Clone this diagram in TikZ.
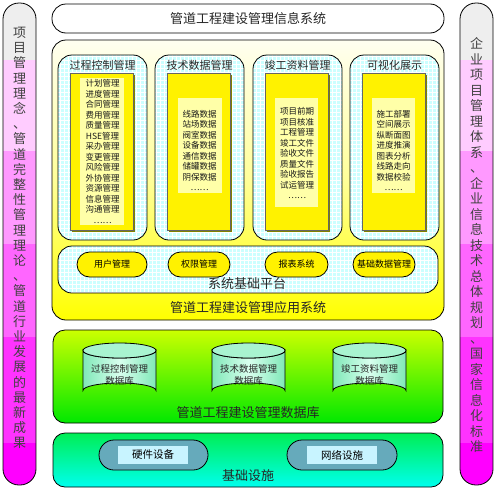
\documentclass[tikz,border=0pt]{standalone}
\usepackage{fontspec}
\setmainfont{Noto Sans CJK SC}
\definecolor{bandA}{HTML}{EEEEEE}
\definecolor{bandB}{HTML}{FFCCFF}
\definecolor{bandC}{HTML}{FF99FF}
\definecolor{bandD}{HTML}{FF66FF}
\definecolor{bandE}{HTML}{FF33FF}
\definecolor{bandF}{HTML}{FF00FF}
\definecolor{gridcyan}{HTML}{CCFFFF}
\definecolor{appTop}{HTML}{FFFFF0}
\definecolor{appMid}{HTML}{FFFF99}
\definecolor{appBot}{HTML}{FFFF00}
\definecolor{paleY}{HTML}{FFFFA8}
\definecolor{olive}{HTML}{808000}
\definecolor{dbTop}{HTML}{CCFF00}
\definecolor{dbBot}{HTML}{00E800}
\definecolor{infTop}{HTML}{00EE55}
\definecolor{infBot}{HTML}{00FFEE}
\definecolor{cylSide}{HTML}{80E8B8}
\definecolor{cylLight}{HTML}{D8FFEE}
\definecolor{cylTop}{HTML}{A8F4D0}
\definecolor{pillBlue}{HTML}{66AABB}
\definecolor{pillIn}{HTML}{C8F4FF}
\begin{document}
\begin{tikzpicture}[x=1pt,y=-1pt,
  outline/.style={draw=black,line width=0.8pt},
  bigtitle/.style={font=\fontsize{13}{15}\selectfont,text=black!85},
  modtitle/.style={font=\fontsize{11}{13}\selectfont,text=black!85},
  listtext/.style={font=\fontsize{8.5}{10.5}\selectfont,align=center,text=black!90},
  sidetext/.style={align=center,text=black!75},
  pillY/.style={outline,fill=yellow,rounded corners=12.5pt,minimum height=25pt,inner sep=0pt,font=\fontsize{9}{11}\selectfont},
  pillB/.style={outline,fill=pillBlue,rounded corners=15pt,minimum height=30pt,inner sep=0pt},
  pillInner/.style={fill=pillIn,minimum width=70pt,minimum height=18pt,inner sep=0pt,font=\fontsize{10.5}{12}\selectfont}
]
\useasboundingbox (0,0) rectangle (497,490);

% ---- side bars ----
\foreach \xa/\xb in {3/36,460/493}{
  \begin{scope}
    \clip[rounded corners=16pt] (\xa,3) rectangle (\xb,485);
    \fill[bandA] (\xa,3) rectangle (\xb,60);
    \fill[bandB] (\xa,60) rectangle (\xb,151);
    \fill[bandC] (\xa,151) rectangle (\xb,244);
    \fill[bandD] (\xa,244) rectangle (\xb,337);
    \fill[bandE] (\xa,337) rectangle (\xb,443);
    \fill[bandF] (\xa,443) rectangle (\xb,485);
  \end{scope}
  \draw[outline,rounded corners=16pt] (\xa,3) rectangle (\xb,485);
}
\node[sidetext,font=\fontsize{13}{15.2}\selectfont] (lefttxt) at (19.5,238)
 {项\\目\\管\\理\\理\\念\\、\\管\\道\\完\\整\\性\\管\\理\\理\\论\\、\\管\\道\\行\\业\\发\\展\\的\\最\\新\\成\\果};
\node[sidetext,font=\fontsize{13}{15.5}\selectfont] (righttxt) at (476.5,245)
 {企\\业\\项\\目\\管\\理\\体\\系\\、\\企\\业\\信\\息\\技\\术\\总\\体\\规\\划\\、\\国\\家\\信\\息\\化\\标\\准};

% ---- top title ----
\draw[outline,fill=white,rounded corners=14pt] (52,4) rectangle (444,33);
\node[bigtitle] (toptitle) at (248,18.5) {管道工程建设管理信息系统};

% ---- application system ----
\shade[outline,rounded corners=14pt,top color=appTop,bottom color=appBot,middle color=appMid] (52,40) rectangle (444,320);
\node[bigtitle] (apptitle) at (248,308) {管道工程建设管理应用系统};

% module boxes
\foreach \x/\n/\t in {58/m1/过程控制管理,155/m2/技术数据管理,253/m3/竣工资料管理,350/m4/可视化展示}{
  \begin{scope}
    \clip[rounded corners=14pt] (\x,55) rectangle ({\x+89},240);
    \fill[gridcyan] (\x,55) rectangle ({\x+89},240);
    \draw[white,line width=0.6pt,step=4pt] (\x,55) grid ({\x+89},240);
  \end{scope}
  \draw[outline,rounded corners=14pt] (\x,55) rectangle ({\x+89},240);
  \node[modtitle] (\n t) at ({\x+44.5},65.5) {\t};
  \fill[olive] ({\x+14},75) rectangle ({\x+77},232);
  \fill[yellow,draw=black!60,line width=0.4pt] ({\x+12.5},73) rectangle ({\x+75.5},230);
}
\fill[paleY] (80,78) rectangle (124,225);
\fill[paleY] (178,98) rectangle (222,193);
\fill[paleY] (275,98) rectangle (318,207);
\fill[paleY] (372,98) rectangle (415,193);
\node[listtext] (l1) at (102.5,151.5) {计划管理\\进度管理\\合同管理\\费用管理\\质量管理\\HSE管理\\采办管理\\变更管理\\风险管理\\外协管理\\资源管理\\信息管理\\沟通管理\\……};
\node[listtext] (l2) at (199.5,150.5) {线路数据\\站场数据\\阀室数据\\设备数据\\通信数据\\储罐数据\\阴保数据\\……};
\node[listtext] (l3) at (297,153) {项目前期\\项目核准\\工程管理\\竣工文件\\验收文件\\质量文件\\验收报告\\试运管理\\……};
\node[listtext] (l4) at (393.5,150.5) {施工部署\\空间展示\\纵断面图\\进度推演\\图表分析\\线路走向\\数据校验\\……};

% platform
\begin{scope}
  \clip[rounded corners=14pt] (58,246) rectangle (438,293);
  \fill[gridcyan] (58,246) rectangle (438,293);
  \draw[white,line width=0.6pt,step=4pt] (58,246) grid (438,293);
\end{scope}
\draw[outline,rounded corners=14pt] (58,246) rectangle (438,293);
\node[pillY,minimum width=70pt] (p1) at (112,264.5) {用户管理};
\node[pillY,minimum width=62pt] (p2) at (199,264.5) {权限管理};
\node[pillY,minimum width=63pt] (p3) at (296.5,264.5) {报表系统};
\node[pillY,minimum width=62pt] (p4) at (384,264.5) {基础数据管理};
\node[bigtitle] (plattitle) at (247,284) {系统基础平台};

% ---- database ----
\shade[outline,rounded corners=12pt,top color=dbTop,bottom color=dbBot] (53,330) rectangle (443,423);
\foreach \cx/\n/\t in {119.5/c1/过程控制管理,248.5/c2/技术数据管理,369.5/c3/竣工资料管理}{
  \shade[outline,left color=cylSide,right color=cylSide,middle color=cylLight]
    ({\cx-36.5},350.5) -- ({\cx-36.5},390.5) arc (180:0:36.5pt and 7.5pt) -- ({\cx+36.5},350.5) arc (0:-180:36.5pt and 7.5pt) -- cycle;
  \filldraw[outline,fill=cylTop] (\cx,350.5) ellipse (36.5pt and 7.5pt);
  \node[font=\fontsize{9.5}{12}\selectfont,align=center,text=black!85] (\n) at (\cx,375) {\t\\数据库};
}
\node[bigtitle] (dbtitle) at (248,413) {管道工程建设管理数据库};

% ---- infrastructure ----
\shade[outline,rounded corners=12pt,top color=infTop,bottom color=infBot] (53,433) rectangle (443,487);
\node[pillB,minimum width=109pt] (hw) at (153.5,455) {};
\node[pillInner] (hwt) at (153,455) {硬件设备};
\node[pillB,minimum width=110pt] (nw) at (342,455) {};
\node[pillInner] (nwt) at (342,455) {网络设施};
\node[bigtitle] (inftitle) at (248,475.5) {基础设施};
\end{tikzpicture}
\end{document}
